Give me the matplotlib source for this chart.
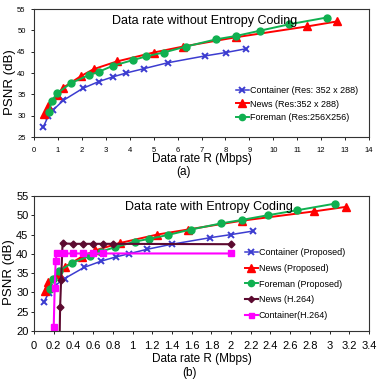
import numpy as np
import matplotlib.pyplot as plt

plt.rcParams['font.family'] = ['Liberation Sans', 'DejaVu Sans']

# (a) sin codificacion de entropia
cont_a_x = [0.39, 0.6, 0.81, 1.23, 2.04, 2.71, 3.3, 3.85, 4.58, 5.59, 7.14, 8.02, 8.88]
cont_a_y = [27.4, 29.9, 31.4, 33.6, 36.4, 38.0, 39.1, 40.0, 41.0, 42.4, 44.0, 44.8, 45.7]
news_a_x = [0.43, 0.57, 0.98, 1.23, 1.97, 2.49, 3.46, 5.0, 6.23, 8.46, 11.4, 12.68]
news_a_y = [30.3, 32.2, 34.8, 36.6, 39.3, 40.9, 42.7, 44.8, 46.2, 48.4, 50.9, 52.1]
fore_a_x = [0.63, 0.74, 0.98, 1.54, 2.28, 2.71, 3.3, 4.12, 4.69, 5.42, 6.35, 7.62, 8.46, 9.43, 10.65, 12.23]
fore_a_y = [30.9, 33.5, 35.3, 37.6, 39.5, 40.3, 41.7, 43.0, 43.9, 44.8, 46.2, 47.9, 48.7, 49.9, 51.4, 53.0]

# (b) con codificacion de entropia
cont_b_x = [0.1, 0.15, 0.2, 0.31, 0.51, 0.68, 0.83, 0.96, 1.15, 1.4, 1.79, 2.0, 2.22]
cont_b_y = [27.5, 29.9, 31.5, 33.6, 36.5, 38.1, 39.2, 40.0, 41.2, 42.5, 44.2, 45.0, 45.9]
news_b_x = [0.11, 0.14, 0.25, 0.31, 0.49, 0.62, 0.87, 1.25, 1.56, 2.11, 2.84, 3.17]
news_b_y = [30.4, 32.8, 34.8, 36.6, 39.3, 40.9, 42.8, 45.0, 46.3, 48.6, 51.0, 52.2]
fore_b_x = [0.16, 0.19, 0.25, 0.39, 0.57, 0.68, 0.82, 1.03, 1.17, 1.36, 1.59, 1.9, 2.11, 2.37, 2.67, 3.05]
fore_b_y = [30.9, 33.6, 35.5, 37.7, 39.5, 40.6, 41.7, 43.2, 43.9, 44.9, 46.3, 47.9, 48.8, 50.0, 51.3, 53.0]
news264_x = [0.255, 0.265, 0.275, 0.29, 0.4, 0.5, 0.6, 0.7, 0.8, 2.0]
news264_y = [10.0, 26.2, 33.1, 42.7, 42.6, 42.6, 42.6, 42.6, 42.6, 42.5]
cont264_x = [0.2, 0.21, 0.22, 0.23, 0.3, 0.4, 0.5, 0.6, 0.7, 2.0]
cont264_y = [21.0, 31.2, 38.2, 40.1, 40.1, 40.1, 40.1, 40.1, 40.1, 40.1]

azul = '#3C3CD0'
rojo = '#FF0000'
verde = '#10B050'
vino = '#5C0A30'
magenta = '#FF00FF'

fig = plt.figure(figsize=(3.82, 3.82), dpi=100)
W = 382.0

def caja(l, t, r, b):
    return [l / W, 1 - b / W, (r - l) / W, (b - t) / W]

# ---------- grafica (a) ----------
ax1 = fig.add_axes(caja(34, 9, 369, 137))
ax1.plot(cont_a_x, cont_a_y, color=azul, lw=1.1, marker='x', ms=5, mew=1.4,
         label='Container (Res: 352 x 288)')
ax1.plot(news_a_x, news_a_y, color=rojo, lw=1.4, marker='^', ms=6,
         label='News (Res:352 x 288)')
ax1.plot(fore_a_x, fore_a_y, color=verde, lw=1.4, marker='o', ms=5,
         label='Foreman (Res:256X256)')
ax1.set_xlim(0, 14)
ax1.set_ylim(25, 55)
ax1.set_xticks(range(0, 15))
ax1.set_yticks(range(25, 56, 5))
ax1.tick_params(labelsize=5.5, length=2, pad=4, width=0.6)
ax1.tick_params(axis='x', pad=5)
ax1.set_ylabel('PSNR (dB)', fontsize=9.5)
ax1.yaxis.set_label_coords(-0.053, 0.426)
ax1.text(0.5, -0.17, 'Data rate R (Mbps)', transform=ax1.transAxes,
         ha='center', va='center', fontsize=8.5)
ax1.text(0.445, -0.273, '(a)', transform=ax1.transAxes,
         ha='center', va='center', fontsize=8.5)
ax1.text(204.5 / W, 1 - 21 / W, 'Data rate without Entropy Coding',
         transform=fig.transFigure, ha='center', va='center', fontsize=9)
ax1.legend(loc='upper left', bbox_to_anchor=(236 / W, 1 - 86 / W),
           bbox_transform=fig.transFigure, frameon=False, fontsize=6.5,
           handlelength=1.4, handletextpad=0.1, labelspacing=0.5,
           borderpad=0, borderaxespad=0, markerscale=0.9)

# ---------- grafica (b) ----------
ax2 = fig.add_axes(caja(34, 196, 369, 331))
ax2.plot(cont_b_x, cont_b_y, color=azul, lw=1.1, marker='x', ms=5, mew=1.4,
         label='Container (Proposed)')
ax2.plot(news_b_x, news_b_y, color=rojo, lw=1.4, marker='^', ms=6,
         label='News (Proposed)')
ax2.plot(fore_b_x, fore_b_y, color=verde, lw=1.4, marker='o', ms=5,
         label='Foreman (Proposed)')
ax2.plot(news264_x, news264_y, color=vino, lw=1.5, marker='D', ms=3.5,
         label='News (H.264)')
ax2.plot(cont264_x, cont264_y, color=magenta, lw=1.5, marker='s', ms=4,
         label='Container(H.264)')
ax2.set_xlim(0, 3.4)
ax2.set_ylim(20, 55)
xt = np.round(np.arange(0, 3.41, 0.2), 1)
ax2.set_xticks(xt)
ax2.set_xticklabels(['%g' % v for v in xt])
ax2.set_yticks(range(20, 56, 5))
ax2.tick_params(labelsize=8, length=2, width=0.6)
ax2.tick_params(axis='x', pad=5)
ax2.tick_params(axis='y', pad=2)
ax2.set_ylabel('PSNR (dB)', fontsize=9.5)
ax2.yaxis.set_label_coords(-0.056, 0.437)
ax2.text(0.5, -0.21, 'Data rate R (Mbps)', transform=ax2.transAxes,
         ha='center', va='center', fontsize=8.5)
ax2.text(0.463, -0.31, '(b)', transform=ax2.transAxes,
         ha='center', va='center', fontsize=8.5)
ax2.text(208.5 / W, 1 - 207 / W, 'Data rate with Entropy Coding',
         transform=fig.transFigure, ha='center', va='center', fontsize=9)
ax2.legend(loc='upper left', bbox_to_anchor=(245 / W, 1 - 248 / W),
           bbox_transform=fig.transFigure, frameon=False, fontsize=6.5,
           handlelength=1.4, handletextpad=0.1, labelspacing=0.75,
           borderpad=0, borderaxespad=0, markerscale=0.9)

for ax in (ax1, ax2):
    for s in ax.spines.values():
        s.set_linewidth(0.8)
        s.set_color('#333333')

plt.savefig('out.png', dpi=100)
